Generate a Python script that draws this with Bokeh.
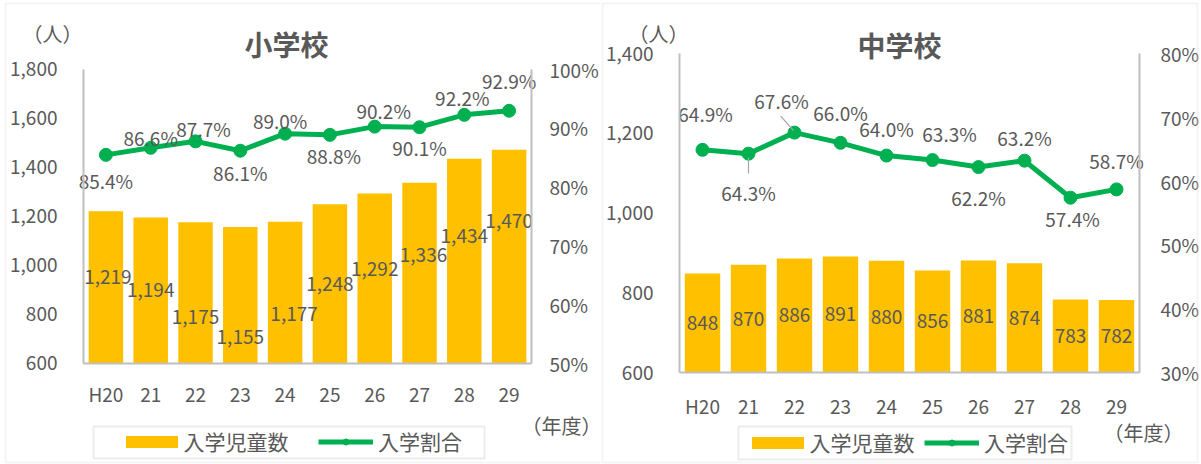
from bokeh.plotting import figure
from bokeh.models import (ColumnDataSource, Range1d, LinearAxis, FixedTicker,
                          NumeralTickFormatter, PrintfTickFormatter, Legend, LegendItem,
                          Label, BoxAnnotation)
from bokeh.layouts import row
from bokeh.embed import file_html
from bokeh.resources import INLINE
from bokeh.core.properties import value

# ---------------- data ----------------
years = ["H20", "21", "22", "23", "24", "25", "26", "27", "28", "29"]

elem_count = [1219, 1194, 1175, 1155, 1177, 1248, 1292, 1336, 1434, 1470]
elem_rate = [85.4, 86.6, 87.7, 86.1, 89.0, 88.8, 90.2, 90.1, 92.2, 92.9]
elem_count_ticks = [600, 800, 1000, 1200, 1400, 1600, 1800]
elem_rate_ticks = [50, 60, 70, 80, 90, 100]

jh_count = [848, 870, 886, 891, 880, 856, 881, 874, 783, 782]
jh_rate = [64.9, 64.3, 67.6, 66.0, 64.0, 63.3, 62.2, 63.2, 57.4, 58.7]
jh_count_ticks = [600, 800, 1000, 1200, 1400]
jh_rate_ticks = [30, 40, 50, 60, 70, 80]

titles = ["小学校", "中学校"]
series_names = ["入学児童数", "入学割合"]
unit_left = "（人）"
unit_x = "（年度）"

# ---------------- styling ----------------
FONT = "Noto Sans CJK JP"
TXT = "#595959"
BAR = "#FFC000"
GREEN = "#00B050"
AXIS = "#BFBFBF"
BORDER = "#D9D9D9"
H = 464
FS = "19px"

# label pixel offsets (label placement, positive dy = downward)
elem_rate_dx = [0, 0, 8, 0, -5, 4, 9, 0, -2, 0]
elem_rate_dy = [26, -10, -13, 22, -13, 21, -16, 20, -17, -30]
elem_count_dx = [2, 0, 0, 0, 9, 0, 0, 4, 0, 0]
elem_count_dy = [66, 73, 95, 110, 92, 80, 76, 72, 77, 71]
jh_rate_dx = [3, 0, -13, 0, 0, 17, 0, 0, 2, 0]
jh_rate_dy = [-36, 39, -32, -30, -27, -27, 30, -23, 21, -29]


def span(a0, a1, p0, p1, size):
    """Range whose value a0 sits at pixel p0 and a1 at pixel p1 on a canvas of given size."""
    s = (a1 - a0) / (p1 - p0)
    return Range1d(a0 - p0 * s, a0 + (size - p0) * s)


def style_axis(ax, standoff):
    ax.axis_line_color = AXIS
    ax.axis_line_width = 2
    ax.major_tick_line_color = None
    ax.minor_tick_line_color = None
    ax.major_tick_out = 0
    ax.major_tick_in = 0
    ax.minor_tick_out = 0
    ax.major_label_text_font = FONT
    ax.major_label_text_font_size = FS
    ax.major_label_text_color = TXT
    ax.major_label_standoff = standoff


def make_chart(width, area, counts, rates, cticks, rticks, title,
               mid_labels, c_dx, c_dy, r_dx, r_dy, geo):
    left, right, top, bottom = area
    n = len(years)
    idx = list(range(n))
    p = figure(width=width, height=H,
               x_range=span(-0.5, n - 0.5, left, right, width),
               y_range=span(cticks[0], cticks[-1], H - bottom, H - top, H),
               x_axis_type=None, y_axis_type=None,
               min_border=0, min_border_left=0, min_border_right=0,
               min_border_top=0, min_border_bottom=0,
               toolbar_location=None, output_backend="svg", title=None)
    p.outline_line_color = None
    p.xgrid.visible = False
    p.ygrid.visible = False
    p.background_fill_color = "white"
    p.border_fill_color = "white"
    p.extra_y_ranges = {"pct": span(rticks[0], rticks[-1], H - bottom, H - top, H)}

    ly = LinearAxis(ticker=FixedTicker(ticks=cticks), formatter=NumeralTickFormatter(format="0,0"),
                    fixed_location=-0.5, bounds=(cticks[0], cticks[-1]))
    style_axis(ly, 26)
    p.add_layout(ly, "left")
    ry = LinearAxis(y_range_name="pct", ticker=FixedTicker(ticks=rticks),
                    formatter=PrintfTickFormatter(format="%d%%"),
                    fixed_location=n - 0.5, bounds=(rticks[0], rticks[-1]))
    style_axis(ry, geo["rstand"])
    p.add_layout(ry, "right")
    bx = LinearAxis(ticker=FixedTicker(ticks=idx),
                    major_label_overrides={i: years[i] for i in idx},
                    fixed_location=cticks[0], bounds=(-0.5, n - 0.5))
    style_axis(bx, geo["xstand"])
    p.add_layout(bx, "below")

    base = cticks[0]
    src = ColumnDataSource(dict(
        x=idx, c=counts, r=rates,
        clab=[f"{v:,}" for v in counts],
        rlab=[f"{v:.1f}%" for v in rates],
        cy=[(base + v) / 2 for v in counts] if mid_labels else counts,
        cdx=c_dx, cdy=c_dy, rdx=r_dx, rdy=r_dy,
    ))

    bars = p.vbar(x="x", top="c", bottom=base, width=0.77, source=src,
                  fill_color=BAR, line_color=None)
    line = p.line(x="x", y="r", source=src, y_range_name="pct",
                  line_color=GREEN, line_width=5)
    dots = p.scatter(x="x", y="r", source=src, y_range_name="pct",
                     size=13, fill_color=GREEN, line_color=GREEN)

    common = dict(text_font=value(FONT), text_font_size=FS, text_color=TXT,
                  text_align="center", text_baseline="middle")
    p.text(x="x", y="cy", text="clab", x_offset="cdx", y_offset="cdy", source=src, **common)
    p.text(x="x", y="r", text="rlab", x_offset="rdx", y_offset="rdy",
           source=src, y_range_name="pct", **common)

    def lab(pos, text, size, bold=False):
        p.add_layout(Label(x=pos[0], y=H - pos[1], x_units="screen", y_units="screen",
                           text=text, text_font=FONT, text_font_size=size,
                           text_font_style="bold" if bold else "normal", text_color=TXT,
                           text_align="center", text_baseline="middle"))

    lab(geo["title"], title, "28px", True)
    lab(geo["unit"], unit_left, "20px")
    lab(geo["unitx"], unit_x, "20px")

    leg_common = dict(orientation="horizontal", padding=0, margin=0, spacing=0,
                      border_line_color=None, background_fill_alpha=0,
                      label_text_font=FONT, label_text_font_size="21px",
                      label_text_color=TXT)
    ly_ = H - geo["legy"]
    l1 = Legend(items=[LegendItem(label=series_names[0], renderers=[bars])],
                location=(geo["leg1"], ly_), glyph_width=65, glyph_height=15,
                label_standoff=0, **leg_common)
    l2 = Legend(items=[LegendItem(label=series_names[1], renderers=[line, dots])],
                location=(geo["leg2"], ly_), glyph_width=55, glyph_height=15,
                label_standoff=5, **leg_common)
    p.add_layout(l1)
    p.add_layout(l2)

    def box(b, color, lw):
        p.add_layout(BoxAnnotation(left=b[0], right=b[1], top=H - b[2], bottom=H - b[3],
                                   left_units="screen", right_units="screen",
                                   top_units="screen", bottom_units="screen",
                                   fill_alpha=0, line_color=color, line_width=lw))

    box(geo["legbox"], AXIS, 2)
    box(geo["outer"], BORDER, 2)
    return p


# canvas-pixel layout of each panel (x from left, y from top)
left_geo = dict(xstand=17, rstand=18, title=(286, 43), unit=(52, 33), unitx=(561, 425),
                leg1=118.5, leg2=318, legy=456, legbox=(93, 484, 426, 458),
                outer=(5, 610, 3, 462))
right_geo = dict(xstand=19, rstand=21, title=(299, 44), unit=(58, 33), unitx=(543, 432),
                 leg1=144.5, leg2=324, legy=457, legbox=(138, 471, 426, 459),
                 outer=(2, 597, 3, 462))

p1 = make_chart(600, (83, 531, 68.5, 362.5), elem_count, elem_rate, elem_count_ticks,
                elem_rate_ticks, titles[0], False, elem_count_dx, elem_count_dy,
                elem_rate_dx, elem_rate_dy, left_geo)
p2 = make_chart(601, (79, 539, 53, 372), jh_count, jh_rate, jh_count_ticks,
                jh_rate_ticks, titles[1], True, [0] * 10, [0] * 10,
                jh_rate_dx, jh_rate_dy, right_geo)

# leader lines for two labels in the junior high chart
p2.segment(x0=[1, 2 - 0.3], y0=[jh_rate[1] - 0.6, jh_rate[2] + 2.6],
           x1=[1, 2 - 0.02], y1=[jh_rate[1] - 3.1, jh_rate[2] + 0.3],
           y_range_name="pct", line_color="#A6A6A6", line_width=1.2)

layout = row(p1, p2, spacing=0)
open("out.html", "w").write(file_html(layout, INLINE))
